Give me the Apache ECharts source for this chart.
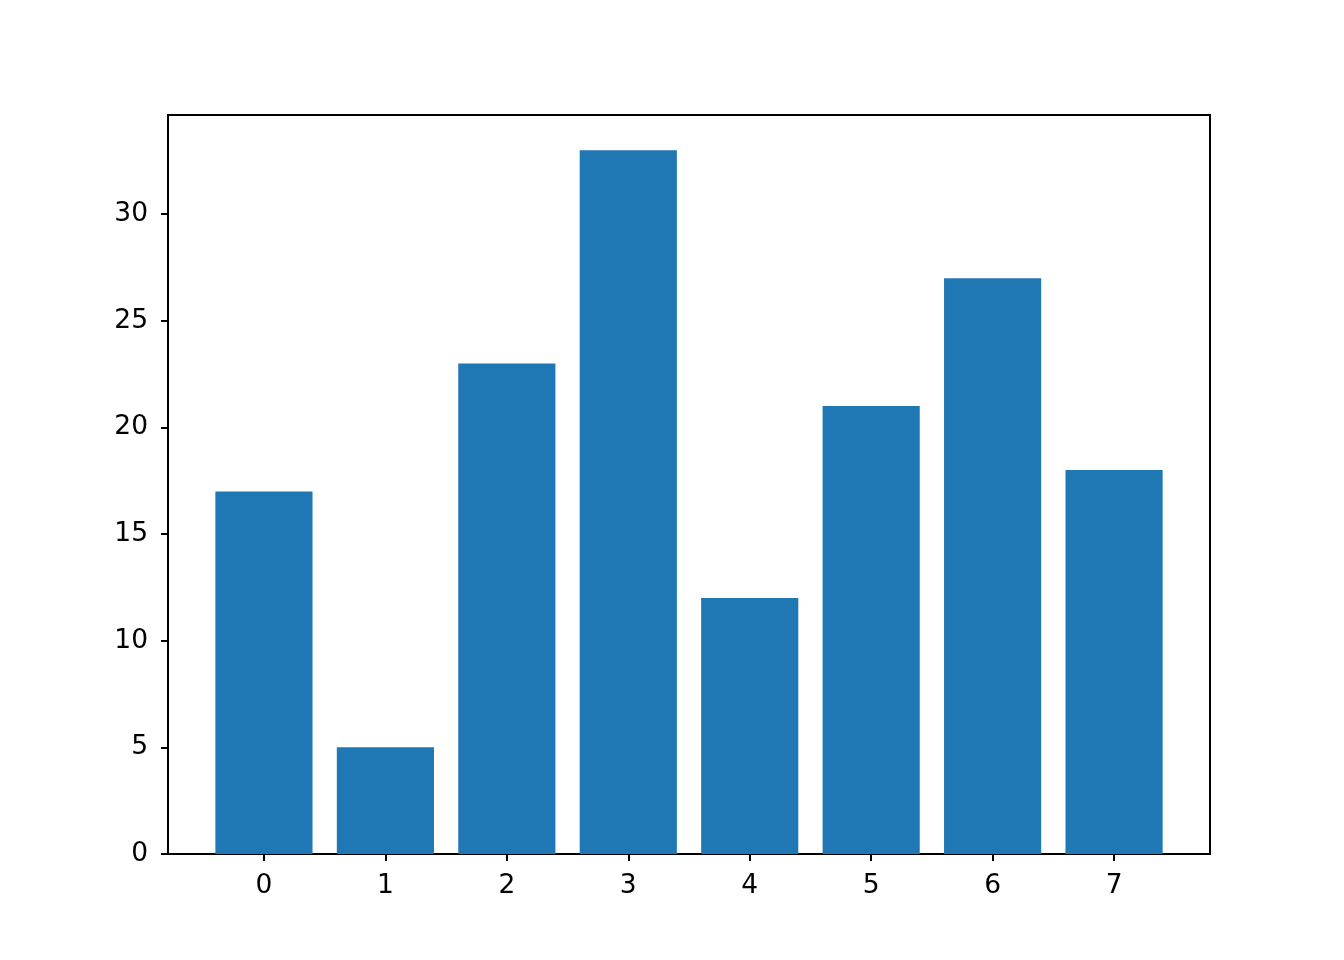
<!DOCTYPE html>
<html>
<head>
<meta charset="utf-8">
<script src="https://cdn.jsdelivr.net/npm/echarts@6/dist/echarts.min.js"></script>
<style>html,body{margin:0;padding:0;background:#fff;}#chart{width:1344px;height:960px;}</style>
</head>
<body>
<div id="chart"></div>
<script>
const categories = [0, 1, 2, 3, 4, 5, 6, 7];
const values = [17, 5, 23, 33, 12, 21, 27, 18];
const yTicks = [0, 5, 10, 15, 20, 25, 30];

const chart = echarts.init(document.getElementById('chart'));
const font = { fontFamily: 'DejaVu Sans', fontSize: 26.5, color: '#000' };
chart.setOption({
  animation: false,
  grid: { left: 168, right: 134, top: 115, bottom: 106, show: true, borderColor: '#000', borderWidth: 2, backgroundColor: 'transparent' },
  xAxis: {
    type: 'value', min: -0.79, max: 7.79,
    splitLine: { show: false },
    axisLine: { show: true, onZero: false, lineStyle: { color: '#000', width: 2 } },
    axisTick: { show: true, length: 7, lineStyle: { color: '#000', width: 2 }, customValues: categories },
    axisLabel: Object.assign({ margin: 19, customValues: categories, formatter: v => String(v) }, font)
  },
  yAxis: {
    type: 'value', min: 0, max: 34.65,
    splitLine: { show: false },
    axisLine: { show: true, onZero: false, lineStyle: { color: '#000', width: 2 } },
    axisTick: { show: true, length: 7, lineStyle: { color: '#000', width: 2 }, customValues: yTicks },
    axisLabel: Object.assign({ margin: 20, lineHeight: 34, padding: [6, 0, 0, 0], customValues: yTicks, formatter: v => String(v) }, font)
  },
  series: [{
    type: 'bar',
    data: categories.map((c, i) => [c, values[i]]),
    barWidth: '80%',
    itemStyle: { color: '#1f77b4', borderWidth: 0 }
  }]
});
</script>
</body>
</html>
